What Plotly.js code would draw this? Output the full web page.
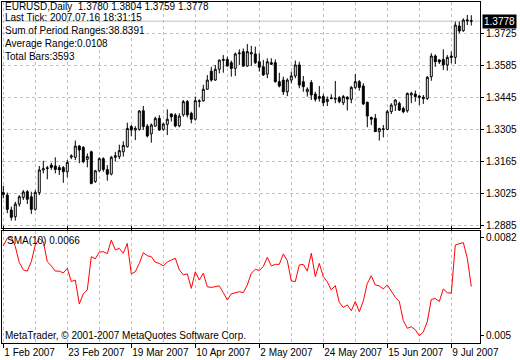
<!DOCTYPE html>
<html><head><meta charset="utf-8">
<script src="https://cdn.plot.ly/plotly-3.0.1.min.js"></script>
<style>html,body{margin:0;padding:0;background:#fff;}#chart{width:520px;height:360px;}</style>
</head><body><div id="chart"></div>
<script>
const dates = [
'2007-02-01','2007-02-02','2007-02-05','2007-02-06','2007-02-07','2007-02-08','2007-02-09','2007-02-12','2007-02-13','2007-02-14',
'2007-02-15','2007-02-16','2007-02-19','2007-02-20','2007-02-21','2007-02-22','2007-02-23','2007-02-26','2007-02-27','2007-02-28',
'2007-03-01','2007-03-02','2007-03-05','2007-03-06','2007-03-07','2007-03-08','2007-03-09','2007-03-12','2007-03-13','2007-03-14',
'2007-03-15','2007-03-16','2007-03-19','2007-03-20','2007-03-21','2007-03-22','2007-03-23','2007-03-26','2007-03-27','2007-03-28',
'2007-03-29','2007-03-30','2007-04-02','2007-04-03','2007-04-04','2007-04-05','2007-04-06','2007-04-09','2007-04-10','2007-04-11',
'2007-04-12','2007-04-13','2007-04-16','2007-04-17','2007-04-18','2007-04-19','2007-04-20','2007-04-23','2007-04-24','2007-04-25',
'2007-04-26','2007-04-27','2007-04-30','2007-05-01','2007-05-02','2007-05-03','2007-05-04','2007-05-07','2007-05-08','2007-05-09',
'2007-05-10','2007-05-11','2007-05-14','2007-05-15','2007-05-16','2007-05-17','2007-05-18','2007-05-21','2007-05-22','2007-05-23',
'2007-05-24','2007-05-25','2007-05-28','2007-05-29','2007-05-30','2007-05-31','2007-06-01','2007-06-04','2007-06-05','2007-06-06',
'2007-06-07','2007-06-08','2007-06-11','2007-06-12','2007-06-13','2007-06-14','2007-06-15','2007-06-18','2007-06-19','2007-06-20',
'2007-06-21','2007-06-22','2007-06-25','2007-06-26','2007-06-27','2007-06-28','2007-06-29','2007-07-02','2007-07-03','2007-07-04',
'2007-07-05','2007-07-06','2007-07-09','2007-07-10','2007-07-11','2007-07-12','2007-07-13','2007-07-16'];

const openP = [
1.3030,1.3019,1.2954,1.2925,1.2980,1.3009,1.3034,1.3012,1.2957,1.3030,
1.3129,1.3135,1.3150,1.3146,1.3139,1.3139,1.3121,1.3185,1.3184,1.3233,
1.3227,1.3175,1.3208,1.3078,1.3125,1.3178,1.3131,1.3111,1.3184,1.3187,
1.3208,1.3230,1.3318,1.3303,1.3306,1.3387,1.3320,1.3286,1.3320,1.3354,
1.3306,1.3328,1.3373,1.3369,1.3321,1.3369,1.3427,1.3376,1.3350,1.3427,
1.3430,1.3481,1.3560,1.3521,1.3568,1.3606,1.3611,1.3597,1.3572,1.3636,
1.3645,1.3582,1.3635,1.3635,1.3601,1.3579,1.3547,1.3597,1.3597,1.3514,
1.3521,1.3470,1.3521,1.3539,1.3587,1.3514,1.3470,1.3510,1.3460,1.3449,
1.3449,1.3427,1.3440,1.3438,1.3444,1.3422,1.3446,1.3437,1.3489,1.3514,
1.3495,1.3424,1.3358,1.3354,1.3296,1.3305,1.3306,1.3383,1.3412,1.3419,
1.3397,1.3387,1.3456,1.3460,1.3451,1.3446,1.3441,1.3536,1.3626,1.3609,
1.3611,1.3587,1.3626,1.3620,1.3757,1.3736,1.3779,1.3780];

const highP = [
1.3059,1.3030,1.2969,1.2990,1.3019,1.3041,1.3041,1.3034,1.3041,1.3146,
1.3169,1.3146,1.3160,1.3184,1.3150,1.3146,1.3172,1.3197,1.3257,1.3238,
1.3233,1.3201,1.3213,1.3129,1.3184,1.3184,1.3150,1.3190,1.3208,1.3239,
1.3254,1.3335,1.3325,1.3320,1.3390,1.3408,1.3329,1.3332,1.3361,1.3368,
1.3335,1.3393,1.3376,1.3376,1.3376,1.3434,1.3434,1.3383,1.3449,1.3437,
1.3500,1.3543,1.3579,1.3587,1.3611,1.3630,1.3623,1.3606,1.3641,1.3655,
1.3659,1.3678,1.3670,1.3667,1.3638,1.3609,1.3616,1.3616,1.3611,1.3553,
1.3536,1.3529,1.3558,1.3606,1.3601,1.3539,1.3489,1.3521,1.3470,1.3495,
1.3460,1.3449,1.3459,1.3517,1.3451,1.3456,1.3451,1.3495,1.3548,1.3521,
1.3507,1.3427,1.3361,1.3373,1.3313,1.3325,1.3390,1.3420,1.3437,1.3427,
1.3405,1.3466,1.3470,1.3475,1.3456,1.3456,1.3539,1.3638,1.3633,1.3611,
1.3655,1.3630,1.3645,1.3776,1.3776,1.3790,1.3805,1.3804];

const lowP = [
1.3005,1.2940,1.2908,1.2908,1.2969,1.2998,1.2980,1.2937,1.2951,1.3019,
1.3114,1.3088,1.3129,1.3114,1.3107,1.3073,1.3097,1.3176,1.3172,1.3158,
1.3158,1.3140,1.3066,1.3073,1.3121,1.3121,1.3082,1.3105,1.3165,1.3176,
1.3187,1.3227,1.3277,1.3259,1.3300,1.3303,1.3271,1.3248,1.3318,1.3300,
1.3300,1.3281,1.3340,1.3315,1.3315,1.3361,1.3358,1.3332,1.3344,1.3402,
1.3427,1.3478,1.3514,1.3518,1.3550,1.3553,1.3579,1.3536,1.3539,1.3587,
1.3579,1.3579,1.3582,1.3591,1.3558,1.3539,1.3529,1.3587,1.3510,1.3489,
1.3456,1.3451,1.3507,1.3529,1.3485,1.3470,1.3449,1.3434,1.3427,1.3427,
1.3408,1.3408,1.3437,1.3420,1.3420,1.3412,1.3388,1.3420,1.3481,1.3475,
1.3412,1.3315,1.3325,1.3296,1.3257,1.3271,1.3303,1.3373,1.3386,1.3386,
1.3376,1.3379,1.3420,1.3427,1.3412,1.3417,1.3434,1.3518,1.3579,1.3591,
1.3565,1.3562,1.3594,1.3591,1.3725,1.3732,1.3761,1.3759];

const closeP = [
1.3022,1.2957,1.2922,1.2980,1.3012,1.3033,1.3001,1.2957,1.3031,1.3129,
1.3134,1.3138,1.3140,1.3131,1.3129,1.3121,1.3162,1.3190,1.3233,1.3216,
1.3165,1.3187,1.3070,1.3125,1.3178,1.3131,1.3110,1.3184,1.3191,1.3213,
1.3236,1.3310,1.3303,1.3310,1.3386,1.3318,1.3277,1.3325,1.3354,1.3303,
1.3329,1.3350,1.3361,1.3321,1.3364,1.3427,1.3369,1.3350,1.3431,1.3430,
1.3481,1.3521,1.3521,1.3568,1.3608,1.3611,1.3582,1.3572,1.3635,1.3639,
1.3582,1.3645,1.3641,1.3597,1.3577,1.3543,1.3601,1.3590,1.3514,1.3495,
1.3470,1.3521,1.3539,1.3587,1.3499,1.3492,1.3481,1.3456,1.3437,1.3441,
1.3422,1.3437,1.3443,1.3441,1.3427,1.3449,1.3438,1.3489,1.3514,1.3489,
1.3417,1.3364,1.3350,1.3296,1.3309,1.3308,1.3383,1.3412,1.3434,1.3390,
1.3383,1.3463,1.3463,1.3449,1.3446,1.3440,1.3533,1.3626,1.3601,1.3600,
1.3587,1.3620,1.3620,1.3761,1.3735,1.3783,1.3783,1.3778];

const sma10 = [
0.00792,0.00817,0.00820,0.00790,0.00738,0.00714,0.00710,0.00741,0.00795,0.00816,
0.00806,0.00741,0.00727,0.00710,0.00710,0.00704,0.00719,0.00676,0.00681,0.00603,
0.00636,0.00649,0.00757,0.00750,0.00772,0.00773,0.00767,0.00811,0.00779,0.00784,
0.00768,0.00800,0.00701,0.00708,0.00735,0.00770,0.00760,0.00757,0.00739,0.00735,
0.00727,0.00740,0.00746,0.00752,0.00714,0.00698,0.00701,0.00654,0.00708,0.00681,
0.00703,0.00659,0.00657,0.00659,0.00662,0.00640,0.00616,0.00636,0.00640,0.00643,
0.00640,0.00665,0.00703,0.00716,0.00712,0.00725,0.00755,0.00727,0.00732,0.00732,
0.00766,0.00744,0.00678,0.00676,0.00730,0.00732,0.00710,0.00768,0.00692,0.00735,
0.00692,0.00675,0.00649,0.00663,0.00608,0.00592,0.00600,0.00581,0.00611,0.00578,
0.00613,0.00670,0.00695,0.00665,0.00662,0.00652,0.00665,0.00646,0.00625,0.00611,
0.00549,0.00524,0.00529,0.00519,0.00500,0.00512,0.00546,0.00618,0.00621,0.00611,
0.00652,0.00640,0.00638,0.00795,0.00800,0.00803,0.00752,0.00660];

const tickDates = ['2007-02-01','2007-02-23','2007-03-19','2007-04-10','2007-05-02','2007-05-24','2007-06-15','2007-07-09'];
const tickLabels = ['1 Feb 2007','23 Feb 2007','19 Mar 2007','10 Apr 2007','2 May 2007','24 May 2007','15 Jun 2007','9 Jul 2007'];
const gridDates = ['2007-02-13','2007-03-07','2007-03-29','2007-04-20','2007-05-14','2007-06-05','2007-06-27'];
const priceTicks = [1.2885,1.3025,1.3165,1.3305,1.3445,1.3585,1.3725];
const headerLines = [
  'EURUSD,Daily\u00a0\u00a0',
  'Last Tick: 2007.07.16 18:31:15',
  'Sum of Period Ranges:38.8391',
  'Average Range:0.0108',
  'Total Bars:3593'
];
const copyrightText = 'MetaTrader, \u00a9 2001-2007 MetaQuotes Software Corp.';

const xIdx = dates.map((d, i) => i);
const tickIdx = tickDates.map(d => dates.indexOf(d));
const gridIdx = gridDates.map(d => dates.indexOf(d));
const n = dates.length;
const lastO = openP[n-1], lastH = highP[n-1], lastL = lowP[n-1], lastC = closeP[n-1];
const smaMax = Math.max(...sma10), smaMin = Math.min(...sma10);
const fmt = v => parseFloat(v.toFixed(4)).toString();

const FONT = '"Liberation Sans Narrow", "Liberation Sans", Arial, sans-serif';
const GRID = '#c0c0c0';

const traces = [
  {
    type: 'candlestick', x: xIdx, open: openP, high: highP, low: lowP, close: closeP,
    xaxis: 'x', yaxis: 'y', whiskerwidth: 0,
    increasing: {line: {color: '#000', width: 1}, fillcolor: '#ffffff'},
    decreasing: {line: {color: '#000', width: 1}, fillcolor: '#000000'},
    hoverinfo: 'skip'
  },
  {
    type: 'scatter', mode: 'lines', x: xIdx, y: sma10, xaxis: 'x', yaxis: 'y2',
    line: {color: '#ff0000', width: 1}, hoverinfo: 'skip'
  }
];

const yHeader = [4.5, 15, 28, 41.5, 54];
const annotations = headerLines.map((t, k) => ({
  xref: 'paper', yref: 'paper', x: 0, y: 1, xanchor: 'left', yanchor: 'middle',
  xshift: 1, yshift: -yHeader[k], showarrow: false,
  text: k === 0 ? t + [lastO, lastH, lastL, lastC].map(v => v.toFixed(4)).join(' ') : t,
  font: {family: FONT, size: 10, color: '#000'}
}));
annotations.push({
  xref: 'paper', yref: 'y2 domain', x: 0, y: 1, xanchor: 'left', yanchor: 'middle',
  xshift: 3, yshift: -10, showarrow: false,
  text: 'SMA(10) ' + sma10[n-1].toFixed(4),
  font: {family: FONT, size: 10, color: '#000'}
});
annotations.push({
  xref: 'paper', yref: 'y2 domain', x: 0, y: 0, xanchor: 'left', yanchor: 'middle',
  xshift: 1, yshift: 8, showarrow: false, text: copyrightText,
  font: {family: FONT, size: 10, color: '#000'}
});
annotations.push({
  xref: 'paper', yref: 'y', x: 1, y: lastC, xanchor: 'left', yanchor: 'middle',
  xshift: 2, showarrow: false, text: lastC.toFixed(4), bgcolor: '#000', borderpad: 1,
  font: {family: FONT, size: 10, color: '#fff'}
});

const layout = {
  width: 520, height: 360,
  margin: {l: 2, r: 40, t: 2, b: 17},
  paper_bgcolor: '#fff', plot_bgcolor: '#fff',
  showlegend: false, hovermode: false,
  font: {family: FONT, size: 10, color: '#000'},
  xaxis: {
    anchor: 'y2', type: 'linear', range: [-0.325, 119.175],
    tickmode: 'array', tickvals: tickIdx, ticktext: tickLabels, tickangle: 0,
    ticks: 'outside', ticklen: 4, tickcolor: '#000', tickwidth: 1,
    ticklabelposition: 'outside right', automargin: false,
    showgrid: true, gridcolor: GRID, griddash: '3px,3px', gridwidth: 1,
    minor: {tickmode: 'array', tickvals: gridIdx, showgrid: true, gridcolor: GRID, griddash: '3px,3px', gridwidth: 1, ticks: ''},
    showline: true, linecolor: '#000', linewidth: 1, mirror: 'all',
    zeroline: false, rangeslider: {visible: false}, fixedrange: true
  },
  yaxis: {
    domain: [0.3372, 1], anchor: 'x', side: 'right', range: [1.28755, 1.38616],
    tickmode: 'array', tickvals: priceTicks, ticktext: priceTicks.map(v => v.toFixed(4)),
    ticks: 'outside', ticklen: 3, tickcolor: '#000',
    showgrid: true, gridcolor: GRID, griddash: '3px,3px', gridwidth: 1,
    showline: true, linecolor: '#000', linewidth: 1, mirror: true,
    zeroline: false, fixedrange: true
  },
  yaxis2: {
    domain: [0, 0.3299], anchor: 'x', side: 'right', range: [0.004762, 0.008421],
    tickmode: 'array', tickvals: [smaMin, smaMax], ticktext: [fmt(smaMin), fmt(smaMax)],
    ticks: 'outside', ticklen: 3, tickcolor: '#000',
    showgrid: false,
    showline: true, linecolor: '#000', linewidth: 1, mirror: true,
    zeroline: false, fixedrange: true
  },
  shapes: [
    {type: 'line', xref: 'paper', yref: 'y', x0: 0, x1: 1, y0: lastC, y1: lastC,
     line: {color: GRID, width: 1}, layer: 'below'}
  ],
  annotations: annotations
};

Plotly.newPlot('chart', traces, layout, {staticPlot: true, displayModeBar: false});
</script>
</body></html>
